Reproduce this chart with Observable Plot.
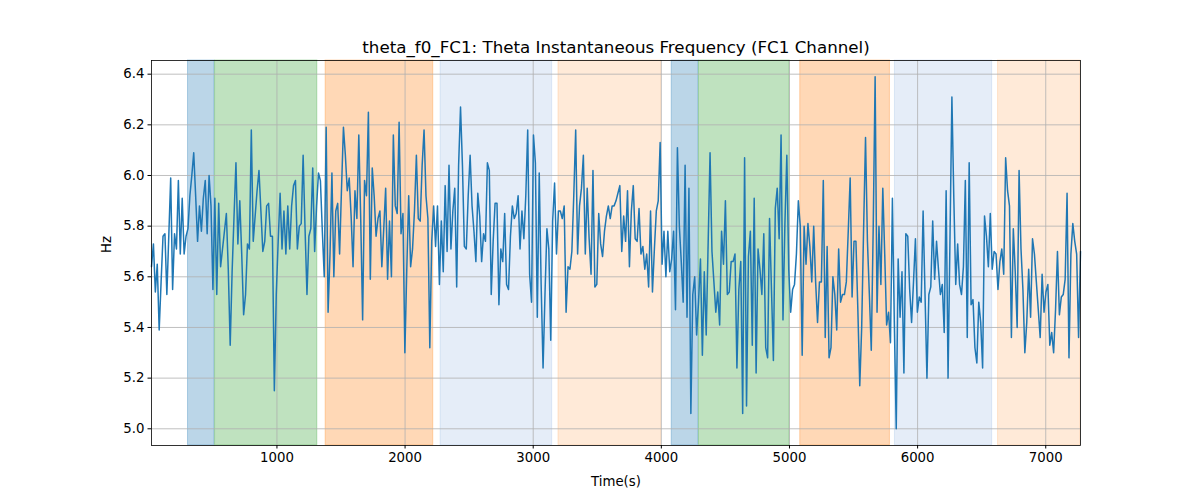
<!DOCTYPE html>
<html><head><meta charset="utf-8">
<script src="https://cdn.jsdelivr.net/npm/d3@7"></script>
<script src="https://cdn.jsdelivr.net/npm/@observablehq/plot@0.6"></script>
<style>body{margin:0;background:#fff;}</style>
</head><body><div id="chart"></div>
<script>
const title = "theta_f0_FC1: Theta Instantaneous Frequency (FC1 Channel)";
const xLabel = "Time(s)";
const yLabel = "Hz";
const tStart = 21, tStep = 14.98;
const hz = [
5.64,5.73,5.54,5.65,5.39,5.58,5.76,5.77,5.53,5.76,5.99,5.55,5.77,5.71,5.98,5.69,5.91,5.69,5.76,5.79,
5.92,6.00,6.09,5.92,5.74,5.88,5.78,5.91,5.98,5.77,6.00,5.88,5.55,5.91,5.53,5.89,5.64,5.71,5.78,5.85,
5.63,5.33,5.62,5.84,6.05,5.73,5.90,5.69,5.45,5.53,5.73,5.71,6.18,5.74,5.84,5.94,6.02,5.86,5.70,5.74,
5.88,
5.89,5.76,5.76,5.15,5.53,5.74,5.93,5.71,5.86,5.69,5.88,5.71,5.88,5.96,5.98,5.71,5.80,5.81,6.08,5.79,
5.53,5.76,5.79,6.03,5.70,5.88,6.01,5.98,5.78,5.60,6.19,5.46,5.69,6.01,5.60,5.86,5.89,5.69,5.95,6.19,
6.08,5.94,5.99,5.84,5.64,5.94,5.83,6.16,5.83,5.43,5.98,5.92,6.25,5.59,6.03,5.92,5.76,5.83,5.86,5.64,
5.79,5.95,5.59,5.82,5.60,6.16,5.88,5.85,6.21,5.77,5.85,5.30,5.63,5.92,5.64,5.71,5.86,6.08,5.83,5.82,
6.04,6.18,5.92,5.83,5.32,5.74,5.88,5.72,5.88,5.57,5.82,5.62,5.96,5.70,6.04,5.71,5.86,5.95,5.56,6.04,
6.27,6.04,5.72,5.71,5.92,6.08,5.88,5.78,5.66,5.93,5.84,5.66,5.77,5.74,6.05,6.02,5.53,5.74,5.89,5.89,
5.49,
5.71,5.66,5.85,5.57,5.55,5.76,5.88,5.83,5.85,5.92,5.71,5.86,5.75,5.92,6.18,5.61,5.50,6.16,6.05,5.44,
6.01,5.57,5.24,5.53,5.79,5.71,5.35,5.82,5.97,5.69,5.86,5.86,5.83,5.88,5.46,5.64,5.63,5.70,5.92,6.18,
5.69,5.88,5.95,6.08,5.69,5.95,5.75,5.61,6.02,5.56,5.57,5.85,5.73,5.68,5.78,5.84,5.88,5.83,5.88,5.88,
5.90,5.93,5.96,5.70,5.84,5.74,5.94,5.64,5.86,5.96,5.75,5.74,5.87,5.69,5.72,5.63,5.69,5.56,5.86,5.54,
5.71,5.86,5.90,6.13,5.65,5.78,5.60,5.78,5.62,5.67,5.78,5.47,6.11,5.80,5.66,5.50,6.04,5.44,5.95,5.06,
5.53,5.60,5.37,5.50,5.67,5.29,5.62,5.37,5.73,6.09,5.70,5.58,5.46,5.54,5.41,5.78,5.65,5.90,5.53,5.54,
5.66,
5.66,5.69,5.24,5.55,5.66,5.06,6.07,5.09,5.68,5.78,5.33,5.91,5.22,5.71,5.63,5.53,5.77,5.32,5.28,5.83,
5.55,5.27,5.87,5.95,5.75,6.16,5.43,5.81,6.08,5.63,5.46,5.55,5.57,5.69,5.90,5.80,5.29,5.80,5.65,5.81,
5.72,5.58,5.80,5.58,5.42,5.58,5.58,5.98,5.36,5.72,5.28,5.32,5.60,5.53,5.39,5.71,5.50,5.53,5.53,5.58,
5.78,5.99,5.52,5.74,5.74,5.47,5.17,5.40,5.79,6.15,5.74,5.53,5.31,5.79,6.39,5.46,5.80,5.57,5.95,5.69,
5.41,5.46,5.34,5.91,5.42,5.00,5.67,5.44,5.62,5.22,5.77,5.76,5.55,5.42,5.58,5.75,5.46,5.52,5.50,5.86,
5.53,5.20,5.53,5.56,5.82,5.59,5.74,5.63,5.53,5.57,5.38,5.94,5.20,5.75,6.31,5.91,5.57,5.73,5.57,5.53,
5.64,
5.98,5.36,6.05,5.49,5.51,5.32,5.26,5.50,5.42,5.24,5.84,5.76,5.64,5.85,5.63,5.70,5.69,5.55,5.66,5.71,
5.61,6.07,5.94,5.88,5.36,5.79,5.62,5.40,6.02,5.71,5.55,5.30,5.42,5.63,5.44,5.75,5.69,5.58,5.47,5.36,
5.61,5.46,5.54,5.57,5.33,5.38,5.30,5.47,5.70,5.45,5.52,5.53,5.59,5.93,5.28,5.69,5.81,5.74,5.69,5.36,
5.70
];
const bandStart = [306, 517, 1380, 2277, 3197, 4081, 4294, 5084, 5823, 6628];
const bandEnd   = [512, 1315, 2220, 3148, 3998, 4289, 5001, 5784, 6582, 7271];
const bandPhase = ["A","B","C","D","E","A","B","C","D","E"];
const xTicks = [1000, 2000, 3000, 4000, 5000, 6000, 7000];
const yTicks = [5.0, 5.2, 5.4, 5.6, 5.8, 6.0, 6.2, 6.4];

const phaseStyle = {
  A: {color: "#1f77b4", opacity: 0.3},
  B: {color: "#2ca02c", opacity: 0.3},
  C: {color: "#ff7f0e", opacity: 0.3},
  D: {color: "#2a6fc4", opacity: 0.12},
  E: {color: "#ff7f0e", opacity: 0.16}
};

const series = hz.map((v, i) => ({t: tStart + i * tStep, v}));
const bands = bandStart.map((s, i) => ({s, e: bandEnd[i], p: bandPhase[i]}));
const xDomain = [tStart, tStart + (hz.length - 1) * tStep];
const yDomain = [4.934, 6.454];

const bandMarks = Object.keys(phaseStyle).map(p => Plot.rect(bands.filter(b => b.p === p), {
  x1: "s", x2: "e", y1: () => yDomain[0], y2: () => yDomain[1],
  fill: phaseStyle[p].color, fillOpacity: phaseStyle[p].opacity,
  stroke: phaseStyle[p].color, strokeOpacity: phaseStyle[p].opacity, strokeWidth: 1
}));

const chart = Plot.plot({
  width: 1200, height: 500,
  marginLeft: 151, marginRight: 120, marginTop: 60, marginBottom: 55,
  style: {fontFamily: "DejaVu Sans, sans-serif", fontSize: "13.3px", color: "black", background: "white"},
  x: {domain: xDomain},
  y: {domain: yDomain},
  marks: [
    ...bandMarks,
    Plot.gridX(xTicks, {stroke: "#b0b0b0", strokeOpacity: 1, strokeWidth: 0.8}),
    Plot.gridY(yTicks, {stroke: "#b0b0b0", strokeOpacity: 1, strokeWidth: 0.8}),
    Plot.line(series, {x: "t", y: "v", stroke: "#1f77b4", strokeWidth: 1.5}),
    Plot.frame({stroke: "black", strokeWidth: 0.8}),
    Plot.axisX({ticks: xTicks, tickSize: 3.5, tickPadding: 3.5, tickFormat: d => String(d), label: null}),
    Plot.axisY({ticks: yTicks, tickSize: 3.5, tickPadding: 3.5, tickFormat: d => d.toFixed(1), label: null}),
    Plot.text([title], {frameAnchor: "top", dy: -8, lineAnchor: "bottom", fontSize: 16.7, text: d => d}),
    Plot.text([xLabel], {frameAnchor: "bottom", dy: 36, lineAnchor: "middle", text: d => d}),
    Plot.text([yLabel], {frameAnchor: "left", dx: -45, rotate: -90, lineAnchor: "middle", text: d => d})
  ]
});
document.getElementById("chart").appendChild(chart);
</script>
</body></html>
